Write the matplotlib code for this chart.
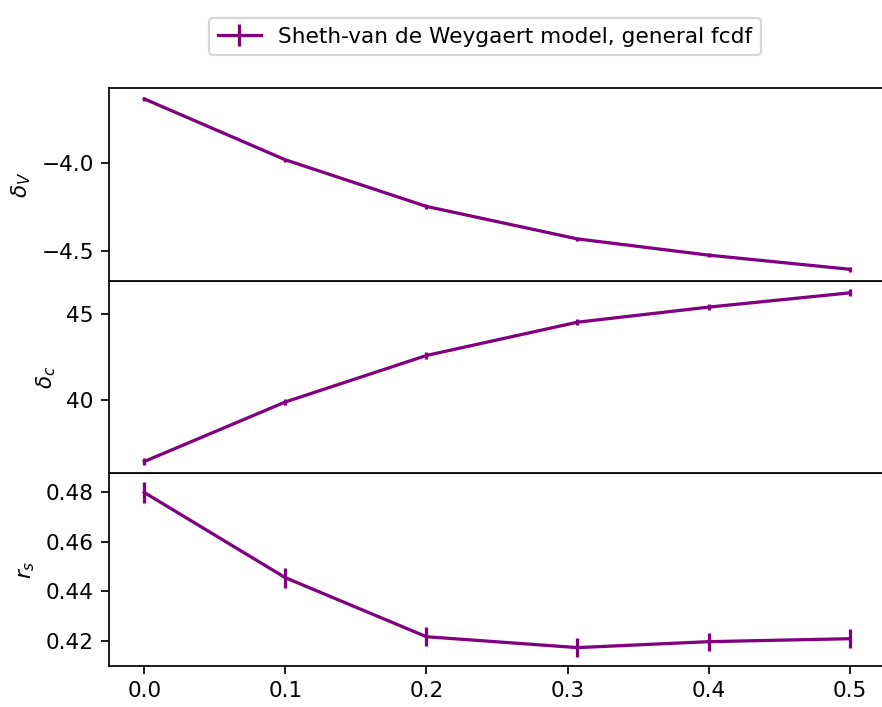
import matplotlib
matplotlib.use("Agg")
import matplotlib.pyplot as plt

# asphericity parameter grid
x = [0.0, 0.1, 0.2, 0.307, 0.4, 0.5]

delta_v = [-3.638, -3.983, -4.247, -4.431, -4.523, -4.603]
delta_v_err = [0.012, 0.012, 0.012, 0.012, 0.012, 0.015]

delta_c = [36.41, 39.88, 42.59, 44.53, 45.41, 46.24]
delta_c_err = [0.18, 0.18, 0.18, 0.18, 0.18, 0.2]

r_s = [0.4800, 0.4455, 0.4216, 0.4172, 0.4196, 0.4208]
r_s_err = [0.0042, 0.0040, 0.0038, 0.0039, 0.0037, 0.0039]

color = "purple"
label = "Sheth-van de Weygaert model, general fcdf"

dpi = 156
fig = plt.figure(figsize=(882 / dpi, 707 / dpi), dpi=dpi)
left, width = 109 / 882, (885 - 109) / 882
bottom, top = 0.058, 0.8755
h = (top - bottom) / 3

ax3 = fig.add_axes([left, bottom, width, h])
ax2 = fig.add_axes([left, bottom + h, width, h], sharex=ax3)
ax1 = fig.add_axes([left, bottom + 2 * h, width, h], sharex=ax3)

for ax, y, e, lab in [(ax1, delta_v, delta_v_err, r"$\delta_V$"),
                      (ax2, delta_c, delta_c_err, r"$\delta_c$"),
                      (ax3, r_s, r_s_err, r"$r_s$")]:
    ax.errorbar(x, y, yerr=e, color=color, capsize=0, label=label)
    ax.set_ylabel(lab)
    ax.spines["right"].set_visible(False)

for ax in (ax1, ax2):
    ax.tick_params(axis="x", bottom=False, labelbottom=False)

ax1.set_yticks([-4.0, -4.5])
ax2.set_yticks([40, 45])
ax3.set_yticks([0.42, 0.44, 0.46, 0.48])
ax3.set_xticks([0.0, 0.1, 0.2, 0.3, 0.4, 0.5])

handles, labels = ax1.get_legend_handles_labels()
fig.legend(handles, labels, loc="upper center", bbox_to_anchor=(0.55, 0.99))

fig.savefig("out.png", dpi=dpi)
